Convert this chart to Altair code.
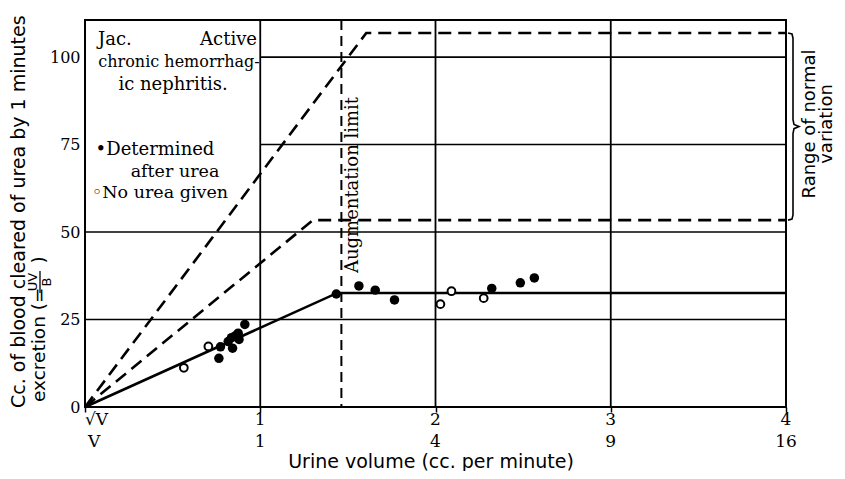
import altair as alt
import pandas as pd

# ---------------- data ----------------
# x is sqrt(V) (urine volume, cc per minute), y is urea clearance (cc blood / min)
filled_x = [0.764, 0.773, 0.817, 0.836, 0.842, 0.857, 0.874, 0.879, 0.912,
            1.434, 1.563, 1.656, 1.766, 2.321, 2.484, 2.564]
filled_y = [13.9, 17.2, 18.7, 19.8, 16.8, 20.3, 21.1, 19.3, 23.6,
            32.3, 34.6, 33.4, 30.6, 33.9, 35.5, 36.9]
open_x = [0.564, 0.704, 2.028, 2.091, 2.275]
open_y = [11.2, 17.3, 29.4, 33.1, 31.1]

# normal range limits (dashed) and patient curve (solid)
upper_x = [0, 1.605, 4.0]
upper_y = [0, 106.9, 106.9]
lower_x = [0, 1.30, 4.0]
lower_y = [0, 53.4, 53.4]
patient_x = [0, 1.44, 4.0]
patient_y = [0, 32.6, 32.6]

augmentation_limit = 1.463

grid_h_y = [25, 50, 75, 100]
grid_h_x0 = [0, 0, 1, 1]
grid_v_x = [1, 2, 3]

sqrt_ticks = [0, 1, 2, 3, 4]
row1_labels = ["\u221aV", "1", "2", "3", "4"]
row2_labels = ["V", "1", "4", "9", "16"]
y_ticks = [0, 25, 50, 75, 100]

W, H = 701, 387
XMAX, YMAX = 4.0, 110.6
SERIF = "DejaVu Serif"
SANS = "DejaVu Sans"

xs = alt.Scale(domain=[0, XMAX], nice=False, zero=False)
ys = alt.Scale(domain=[0, YMAX], nice=False, zero=False)
x_axis = alt.Axis(values=sqrt_ticks, labels=False, title=None, domain=False,
                  tickSize=5, tickWidth=1.5, tickColor="black", grid=False)
y_axis = alt.Axis(values=y_ticks, title=None, domain=False, ticks=False, grid=False,
                  labelFont=SERIF, labelFontSize=16, labelColor="black", labelPadding=5)

# ---------------- tables ----------------
pts = pd.DataFrame({"x": filled_x + open_x, "y": filled_y + open_y,
                    "kind": ["filled"] * len(filled_x) + ["open"] * len(open_x)})
norm = pd.DataFrame({
    "x": upper_x + lower_x, "y": upper_y + lower_y,
    "s": ["upper"] * 3 + ["lower"] * 3, "o": [0, 1, 2] * 2})
pat = pd.DataFrame({"x": patient_x, "y": patient_y, "o": [0, 1, 2]})
gh = pd.DataFrame({"y": grid_h_y, "x0": grid_h_x0, "x1": [XMAX] * 4})
gv = pd.DataFrame({"x": grid_v_x})
aug = pd.DataFrame({"x": [augmentation_limit]})
ticks = pd.DataFrame({"x": sqrt_ticks, "r1": row1_labels, "r2": row2_labels})

# brace for "range of normal variation" built from the two limits
top, bot = upper_y[-1], lower_y[-1]
mid = (top + bot) / 2
px = 1 / (W / XMAX)
brace = pd.DataFrame({
    "x": [XMAX + 2 * px, XMAX + 6 * px, XMAX + 7 * px, XMAX + 7 * px, XMAX + 8 * px, XMAX + 13 * px,
          XMAX + 8 * px, XMAX + 7 * px, XMAX + 7 * px, XMAX + 6 * px, XMAX + 2 * px],
    "y": [top, top - 0.3, top - 1.5, mid + 2.0, mid + 0.6, mid,
          mid - 0.6, mid - 2.0, bot + 1.5, bot + 0.3, bot],
    "o": list(range(11))})

X = lambda f="x": alt.X(f"{f}:Q", scale=xs, axis=x_axis)
Y = lambda f="y": alt.Y(f"{f}:Q", scale=ys, axis=y_axis)

grid_h = alt.Chart(gh).mark_rule(color="black", strokeWidth=1.6).encode(
    x=X("x0"), x2="x1:Q", y=Y())
grid_v = alt.Chart(gv).mark_rule(color="black", strokeWidth=1.8).encode(x=X())
aug_rule = alt.Chart(aug).mark_rule(color="black", strokeWidth=2, strokeDash=[10, 6]).encode(x=X())

norm_lines = alt.Chart(norm).mark_line(color="black", strokeWidth=2.6, strokeDash=[13, 7]).encode(
    x=X(), y=Y(), detail="s:N", order="o:Q")
pat_line = alt.Chart(pat).mark_line(color="black", strokeWidth=2.6).encode(x=X(), y=Y(), order="o:Q")
brace_line = alt.Chart(brace).mark_line(color="black", strokeWidth=1.6).encode(x=X(), y=Y(), order="o:Q")

filled_pts = alt.Chart(pts).transform_filter("datum.kind == 'filled'").mark_point(
    shape="circle", filled=True, color="black", size=90, opacity=1).encode(x=X(), y=Y())
open_pts = alt.Chart(pts).transform_filter("datum.kind == 'open'").mark_point(
    shape="circle", filled=True, fill="white", stroke="black", strokeWidth=2, size=60, opacity=1
).encode(x=X(), y=Y())

def label(text, x, y, size=16, font=SANS, align="center", angle=0, weight="normal", baseline="middle"):
    return alt.Chart(pd.DataFrame({"t": [text]})).mark_text(
        font=font, fontSize=size, align=align, baseline=baseline, angle=angle,
        color="black", fontWeight=weight).encode(x=alt.value(x), y=alt.value(y), text="t:N")

def tick_row(field, ypos, first_align, first_dx):
    first = alt.Chart(ticks).transform_filter("datum.x == 0").mark_text(
        font=SERIF, fontSize=17, align=first_align, baseline="middle", color="black", dx=first_dx
    ).encode(x=X(), y=alt.value(ypos), text=f"{field}:N")
    rest = alt.Chart(ticks).transform_filter("datum.x > 0").mark_text(
        font=SERIF, fontSize=17, align="center", baseline="middle", color="black"
    ).encode(x=X(), y=alt.value(ypos), text=f"{field}:N")
    return [first, rest]

texts = [
    label("Jac.", 13, 20, 18, SERIF, "left"),
    label("Active", 172, 20, 18, SERIF, "right"),
    label("chronic hemorrhag-", 94, 42, 16, SERIF),
    label("ic   nephritis.", 88, 65, 18, SERIF),
    label("\u2022Determined", 70, 130, 18, SERIF),
    label("after urea", 90, 152, 17.5, SERIF),
    label("\u25e6No urea given", 75, 173, 17.5, SERIF),
    label("Augmentation limit", 268, 165, 18, SERIF, angle=270),
    label("Range of normal", 725, 104, 18, SANS, angle=270),
    label("variation", 742, 104, 18, SANS, angle=270),
    label("Urine volume (cc. per minute)", 346, H + 61, 19, SANS, baseline="alphabetic"),
    label("Cc. of blood cleared of urea by 1 minutes", -66, 388, 19, SANS, "left", 270),
    label("excretion (=", -46, 382, 18.5, SANS, "left", 270),
    label("UV", -52, 262, 13, SANS, "center", 270),
    label("B", -38, 262, 13, SANS, "center", 270),
    label(")", -46, 240, 18.5, SANS, "center", 270),
]
frac_bar = alt.Chart(pd.DataFrame({"a": [0]})).mark_rule(color="black", strokeWidth=1.3).encode(
    x=alt.value(-45), y=alt.value(251), y2=alt.value(273))

chart = alt.layer(
    grid_h, grid_v, aug_rule, norm_lines, pat_line, brace_line,
    filled_pts, open_pts, *tick_row("r1", H + 13, "left", 0), *tick_row("r2", H + 35, "left", 3),
    frac_bar, *texts
).properties(
    width=W, height=H,
    autosize=alt.AutoSizeParams(type="none"),
    padding={"left": 77, "top": 12, "right": 51, "bottom": 64},
    background="white",
).configure_view(stroke="black", strokeWidth=2)

chart.save("out.html", embed_options={"renderer": "svg", "actions": False})
